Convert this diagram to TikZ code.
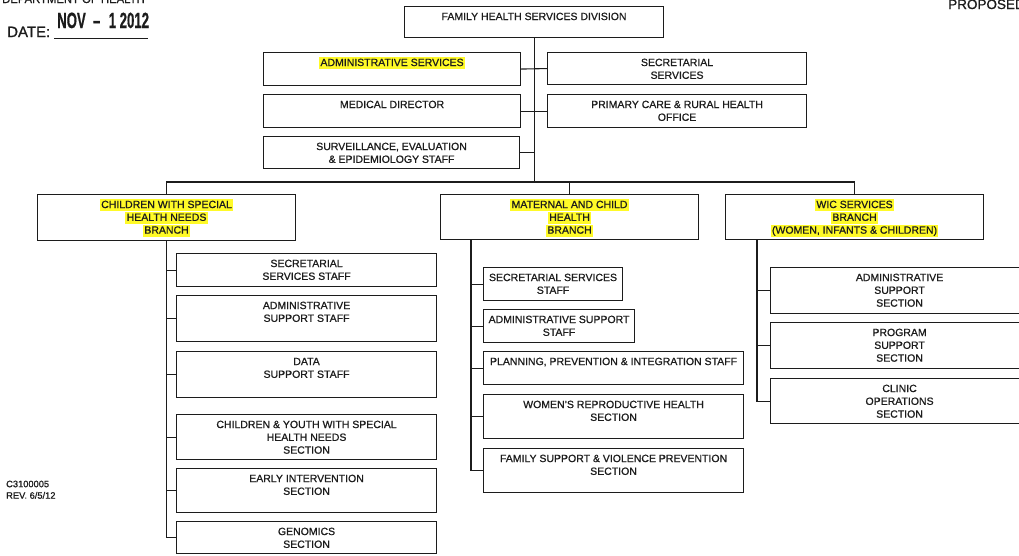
\documentclass[tikz,border=0pt]{standalone}
\usepackage{fontspec}
\setmainfont{Liberation Sans}[FakeBold=0.9]

\definecolor{hlyellow}{RGB}{255,250,40}
\definecolor{ink}{RGB}{28,28,28}
\setlength{\fboxsep}{1.2pt}

% yellow marker on one line of text
\newcommand{\hlt}[1]{\colorbox{hlyellow}{\vphantom{(}#1}}
% one box of the chart: name, north west corner, width, height, text
\newcommand{\orgunit}[5]{%
  \node[orgbox, anchor=north west] (#1) at (#2)
    {\parbox[t][#4pt][t]{#3pt}{\centering\rule{0pt}{13.5pt}#5}};}

\begin{document}
\begin{tikzpicture}[x=1pt, y=-1pt,
    orgbox/.style={draw=ink, line width=1.1pt, inner sep=0pt, text=ink,
                   font=\fontsize{10.5}{12.8}\selectfont},
    wire/.style={draw=ink, line width=1.1pt}]
    % Page size of the scan
    \useasboundingbox (0,0) rectangle (1019,555);
    \clip (0,0) rectangle (1019,555);

    % Header and stamp
    \node[anchor=base west, inner sep=0pt, text=ink, font=\fontsize{11.3}{12}\selectfont] (dept) at (2,3) {DEPARTMENT OF HEALTH};
    \node[anchor=base west, inner sep=0pt, text=ink, font=\fontsize{15}{16}\selectfont] (date) at (7,37) {DATE:};
    \node[anchor=base west, inner sep=0pt, text=ink] (stamp) at (57,28)
        {\scalebox{0.6}[1]{\bfseries\fontsize{22}{22}\selectfont NOV\hspace{12pt}--\hspace{14pt}1\hspace{6pt}2012}};
    \coordinate (ulA) at (54,38);
    \coordinate (ulB) at (148,38);
    \draw[ink, line width=0.7pt] (ulA) -- (ulB);
    \node[anchor=base west, inner sep=0pt, text=ink, font=\fontsize{13.5}{14}\selectfont] (proposed) at (948,9) {PROPOSED};
    \node[anchor=north west, inner sep=0pt, align=left, text=ink, font=\fontsize{9.3}{11.5}\selectfont] (code) at (6,480.5) {C3100005\\REV. 6/5/12};

    % Division and its staff offices
    \orgunit{fhsd}{404,6}{259}{31}{FAMILY HEALTH SERVICES DIVISION}
    \orgunit{admsvc}{263,52}{257}{33}{\hlt{ADMINISTRATIVE SERVICES}}
    \orgunit{secsvc}{547,52}{259}{32}{SECRETARIAL\\SERVICES}
    \orgunit{meddir}{263,94}{257}{33}{MEDICAL DIRECTOR}
    \orgunit{primary}{547,94}{259}{33}{PRIMARY CARE \& RURAL HEALTH\\OFFICE}
    \orgunit{surv}{263,136}{256}{32}{SURVEILLANCE, EVALUATION\\\& EPIDEMIOLOGY STAFF}

    % Branches
    \orgunit{cwshn}{37,194}{258}{46}{\hlt{CHILDREN WITH SPECIAL}\\\hlt{HEALTH NEEDS}\\\hlt{BRANCH}}
    \orgunit{mch}{440,194}{258}{45}{\hlt{MATERNAL AND CHILD}\\\hlt{HEALTH}\\\hlt{BRANCH}}
    \orgunit{wic}{725,194}{258}{45}{\hlt{WIC SERVICES}\\\hlt{BRANCH}\\\hlt{(WOMEN, INFANTS \& CHILDREN)}}

    % Children with special health needs branch
    \orgunit{cw1}{176,253}{260}{33}{SECRETARIAL\\SERVICES STAFF}
    \orgunit{cw2}{176,295}{260}{46}{ADMINISTRATIVE\\SUPPORT STAFF}
    \orgunit{cw3}{176,351}{260}{46}{DATA\\SUPPORT STAFF}
    \orgunit{cw4}{176,414}{260}{45}{CHILDREN \& YOUTH WITH SPECIAL\\HEALTH NEEDS\\SECTION}
    \orgunit{cw5}{176,468}{260}{44}{EARLY INTERVENTION\\SECTION}
    \orgunit{cw6}{176,521}{260}{32}{GENOMICS\\SECTION}

    % Maternal and child health branch
    \orgunit{mc1}{483,267}{139}{33}{SECRETARIAL SERVICES\\STAFF}
    \orgunit{mc2}{483,309}{151}{33}{ADMINISTRATIVE SUPPORT\\STAFF}
    \orgunit{mc3}{483,351}{260}{33}{PLANNING, PREVENTION \& INTEGRATION STAFF}
    \orgunit{mc4}{483,394}{260}{44}{WOMEN'S REPRODUCTIVE HEALTH\\SECTION}
    \orgunit{mc5}{483,448}{260}{44}{FAMILY SUPPORT \& VIOLENCE PREVENTION\\SECTION}

    % WIC services branch
    \orgunit{wc1}{770,267}{258}{46}{ADMINISTRATIVE\\SUPPORT\\SECTION}
    \orgunit{wc2}{770,322}{258}{46}{PROGRAM\\SUPPORT\\SECTION}
    \orgunit{wc3}{770,378}{258}{45}{CLINIC\\OPERATIONS\\SECTION}

    % Trunk and staff offices
    \coordinate (bus) at (0,182);
    \draw[wire] (fhsd.south) -- (fhsd.south |- bus);
    \draw[wire] (admsvc.east) -- (secsvc.west);
    \draw[wire] (meddir.east) -- (primary.west);
    \draw[wire] (surv.east) -- (surv.east -| fhsd.south);

    % Bus to the branches
    \draw[wire] (cwshn.north) |- (wic.north |- bus) -- (wic.north);
    \draw[wire] (mch.north) -- (mch.north |- bus);

    % Stems of the branches
    \draw[wire] (cwshn.south) |- (cw6.west);
    \foreach \i in {1,...,5}
        \draw[wire] (cw\i.west) -- (cw\i.west -| cwshn.south);
    \coordinate (mchroot) at ([xshift=31pt]mch.south west);
    \draw[wire] (mchroot) |- (mc5.west);
    \foreach \i in {1,...,4}
        \draw[wire] (mc\i.west) -- (mc\i.west -| mchroot);
    \coordinate (wicroot) at ([xshift=32pt]wic.south west);
    \draw[wire] (wicroot) |- (wc3.west);
    \foreach \i in {1,2}
        \draw[wire] (wc\i.west) -- (wc\i.west -| wicroot);
\end{tikzpicture}
\end{document}
